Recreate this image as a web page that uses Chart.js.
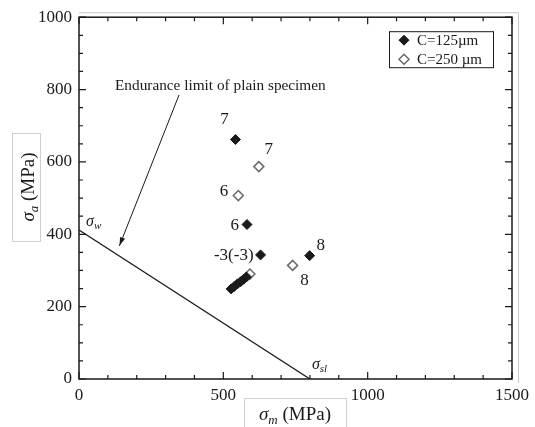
<!DOCTYPE html>
<html>
<head>
<meta charset="utf-8">
<script src="https://cdn.jsdelivr.net/npm/chart.js@4.4.1/dist/chart.umd.min.js"></script>
<style>
  html, body { margin: 0; padding: 0; background: #fff; }
  #wrap { width: 535px; height: 427px; }
</style>
</head>
<body>
<div id="wrap"><canvas id="chart"></canvas></div>
<script>
'use strict';

// ── Data ──────────────────────────────────────────────────────────────────────

// C = 125 µm (filled diamonds)
const fineX = [542, 582, 629, 799, 527, 538, 549, 560, 571, 580];
const fineY = [662, 427, 343, 341, 249, 256, 263, 269, 276, 282];
const fineNotes = ['7', '6', '-3(-3)', '8', '', '', '', '', '', ''];

// C = 250 µm (open diamonds)
const coarseX = [623, 552, 740, 592];
const coarseY = [587, 507, 314, 290];
const coarseNotes = ['7', '6', '8', ''];

// endurance limit line of the plain specimen
const sigmaW = 412;
const sigmaSl = 800;

const xTicks = [0, 500, 1000, 1500];
const yTicks = [0, 200, 400, 600, 800, 1000];

// ── Styles ────────────────────────────────────────────────────────────────────

const SERIF = "'Liberation Serif', 'Times New Roman', serif";
const INK = '#1a1a1a';
const OPEN = '#6a6a6a';

const toPts = (xs, ys) => xs.map((x, i) => ({ x, y: ys[i] }));

// text offsets (px) of the run-out numbers next to each point
const fineOffsets = [
  [-11, -20, 'center'], [-8, 1, 'right'], [-7, 1, 'right'], [11, -10, 'center'],
];
const coarseOffsets = [
  [10, -17, 'center'], [-10, -4, 'right'], [12, 15, 'center'],
];

function richText(ctx, parts, x, y, align) {
  let total = 0;
  parts.forEach(p => { ctx.font = p.font; total += ctx.measureText(p.t).width; });
  let cx = align === 'center' ? x - total / 2 : x;
  parts.forEach(p => {
    ctx.font = p.font;
    ctx.fillText(p.t, cx, y + (p.dy || 0));
    cx += ctx.measureText(p.t).width;
  });
  return total;
}

// ── Plugin: frame, inside ticks, notes, legend, axis titles ──────────────────

const decorations = {
  id: 'decorations',
  afterDraw(chart) {
    const { ctx, chartArea: a, scales: { x, y } } = chart;
    ctx.save();

    // outer grey frame
    ctx.strokeStyle = '#c8c8c8';
    ctx.lineWidth = 1;
    ctx.beginPath();
    ctx.moveTo(a.left, a.top - 4.5);
    ctx.lineTo(a.right + 6.5, a.top - 4.5);
    ctx.lineTo(a.right + 6.5, a.bottom + 4);
    ctx.stroke();

    // plot frame
    ctx.strokeStyle = INK;
    ctx.lineWidth = 1.5;
    ctx.strokeRect(a.left, a.top, a.right - a.left, a.bottom - a.top);

    // inside ticks
    ctx.lineWidth = 1.2;
    ctx.beginPath();
    for (let v = 0; v <= 1000; v += 50) {
      const py = y.getPixelForValue(v);
      const len = v % 200 === 0 ? 7 : 4;
      ctx.moveTo(a.left, py); ctx.lineTo(a.left + len, py);
      ctx.moveTo(a.right, py); ctx.lineTo(a.right - len, py);
    }
    for (let v = 0; v <= 1500; v += 100) {
      const px = x.getPixelForValue(v);
      const len = v % 500 === 0 ? 7 : 4;
      ctx.moveTo(px, a.bottom); ctx.lineTo(px, a.bottom - len);
      ctx.moveTo(px, a.top); ctx.lineTo(px, a.top + len);
    }
    ctx.stroke();

    // run-out numbers beside points
    ctx.fillStyle = INK;
    ctx.font = '17px ' + SERIF;
    ctx.textBaseline = 'middle';
    const note = (xs, ys, notes, offs) => {
      notes.forEach((t, i) => {
        if (!t) return;
        const [dx, dy, al] = offs[i];
        ctx.textAlign = al;
        ctx.fillText(t, x.getPixelForValue(xs[i]) + dx, y.getPixelForValue(ys[i]) + dy);
      });
    };
    note(fineX, fineY, fineNotes, fineOffsets);
    note(coarseX, coarseY, coarseNotes, coarseOffsets);

    // sigma labels at the line ends
    ctx.textAlign = 'left';
    ctx.textBaseline = 'alphabetic';
    const it = sz => 'italic ' + sz + 'px ' + SERIF;
    const w0 = { x: x.getPixelForValue(0), y: y.getPixelForValue(sigmaW) };
    richText(ctx, [{ t: 'σ', font: it(16) }, { t: 'w', font: it(11), dy: 3 }], w0.x + 7, w0.y - 4, 'left');
    const s0 = { x: x.getPixelForValue(sigmaSl), y: y.getPixelForValue(0) };
    richText(ctx, [{ t: 'σ', font: it(16) }, { t: 'sl', font: it(11), dy: 3 }], s0.x + 2, s0.y - 10, 'left');

    // annotation with arrow
    ctx.font = '15.3px ' + SERIF;
    ctx.textAlign = 'left';
    ctx.fillText('Endurance limit of plain specimen', 115, 90);
    const x1 = 179, y1 = 95;
    const x2 = x.getPixelForValue(140), y2 = y.getPixelForValue(368);
    ctx.lineWidth = 1;
    ctx.beginPath();
    ctx.moveTo(x1, y1); ctx.lineTo(x2, y2);
    ctx.stroke();
    const ang = Math.atan2(y2 - y1, x2 - x1);
    ctx.beginPath();
    ctx.moveTo(x2, y2);
    ctx.lineTo(x2 - 9 * Math.cos(ang - 0.3), y2 - 9 * Math.sin(ang - 0.3));
    ctx.lineTo(x2 - 9 * Math.cos(ang + 0.3), y2 - 9 * Math.sin(ang + 0.3));
    ctx.closePath();
    ctx.fill();

    // legend box
    const bx = a.right - 123, by = a.top + 14, bw = 104, bh = 36;
    ctx.strokeStyle = INK;
    ctx.lineWidth = 1;
    ctx.strokeRect(bx + 0.5, by + 0.5, bw, bh);
    ctx.font = '15px ' + SERIF;
    ctx.textBaseline = 'middle';
    chart.data.datasets.slice(0, 2).forEach((ds, i) => {
      const cy = by + 9 + i * 19;
      ctx.fillStyle = ds.backgroundColor;
      ctx.strokeStyle = ds.borderColor;
      ctx.lineWidth = ds.borderWidth;
      ctx.beginPath();
      ctx.moveTo(bx + 15, cy - 5); ctx.lineTo(bx + 20, cy);
      ctx.lineTo(bx + 15, cy + 5); ctx.lineTo(bx + 10, cy);
      ctx.closePath();
      ctx.fill(); ctx.stroke();
      ctx.fillStyle = INK;
      ctx.fillText(ds.label, bx + 28, cy + 1);
    });

    // axis titles in light boxes
    ctx.strokeStyle = '#cfcfcf';
    ctx.lineWidth = 1;
    ctx.strokeRect(12.5, 133.5, 28, 108);
    ctx.strokeRect(244.5, 398.5, 102, 32);
    ctx.fillStyle = INK;
    ctx.textBaseline = 'alphabetic';
    ctx.save();
    ctx.translate(34, 187);
    ctx.rotate(-Math.PI / 2);
    richText(ctx, [
      { t: 'σ', font: it(19) }, { t: 'a', font: it(13), dy: 4 }, { t: ' (MPa)', font: '19px ' + SERIF },
    ], 0, 0, 'center');
    ctx.restore();
    richText(ctx, [
      { t: 'σ', font: it(19) }, { t: 'm', font: it(13), dy: 4 }, { t: ' (MPa)', font: '19px ' + SERIF },
    ], 295, 420, 'center');

    ctx.restore();
  },
};

// ── Chart ─────────────────────────────────────────────────────────────────────

new Chart(document.getElementById('chart'), {
  type: 'scatter',
  data: {
    datasets: [
      {
        label: 'C=125µm',
        data: toPts(fineX, fineY),
        pointStyle: 'rectRot',
        pointRadius: 5,
        backgroundColor: INK,
        borderColor: INK,
        borderWidth: 1,
      },
      {
        label: 'C=250 µm',
        data: toPts(coarseX, coarseY),
        pointStyle: 'rectRot',
        pointRadius: 5,
        backgroundColor: '#ffffff',
        borderColor: OPEN,
        borderWidth: 1.5,
      },
      {
        type: 'line',
        label: 'limit',
        data: [{ x: 0, y: sigmaW }, { x: sigmaSl, y: 0 }],
        borderColor: INK,
        borderWidth: 1.3,
        pointRadius: 0,
        fill: false,
      },
    ],
  },
  options: {
    responsive: true,
    maintainAspectRatio: false,
    animation: false,
    layout: { padding: { top: 13, right: 18, left: 0, bottom: 0 } },
    plugins: {
      legend: { display: false },
      tooltip: { enabled: false },
    },
    scales: {
      x: {
        type: 'linear',
        min: xTicks[0],
        max: xTicks[xTicks.length - 1],
        afterBuildTicks: s => { s.ticks = xTicks.map(v => ({ value: v })); },
        afterFit: s => { s.height = 48; },
        grid: { display: false, drawTicks: false },
        border: { display: false },
        ticks: { padding: 6, color: INK, font: { family: SERIF, size: 17 }, callback: v => String(v) },
      },
      y: {
        type: 'linear',
        min: yTicks[0],
        max: yTicks[yTicks.length - 1],
        afterBuildTicks: s => { s.ticks = yTicks.map(v => ({ value: v })); },
        afterFit: s => { s.width = 79; },
        grid: { display: false, drawTicks: false },
        border: { display: false },
        ticks: { padding: 7, color: INK, font: { family: SERIF, size: 17 }, callback: v => String(v) },
      },
    },
  },
  plugins: [decorations],
});
</script>
</body>
</html>
